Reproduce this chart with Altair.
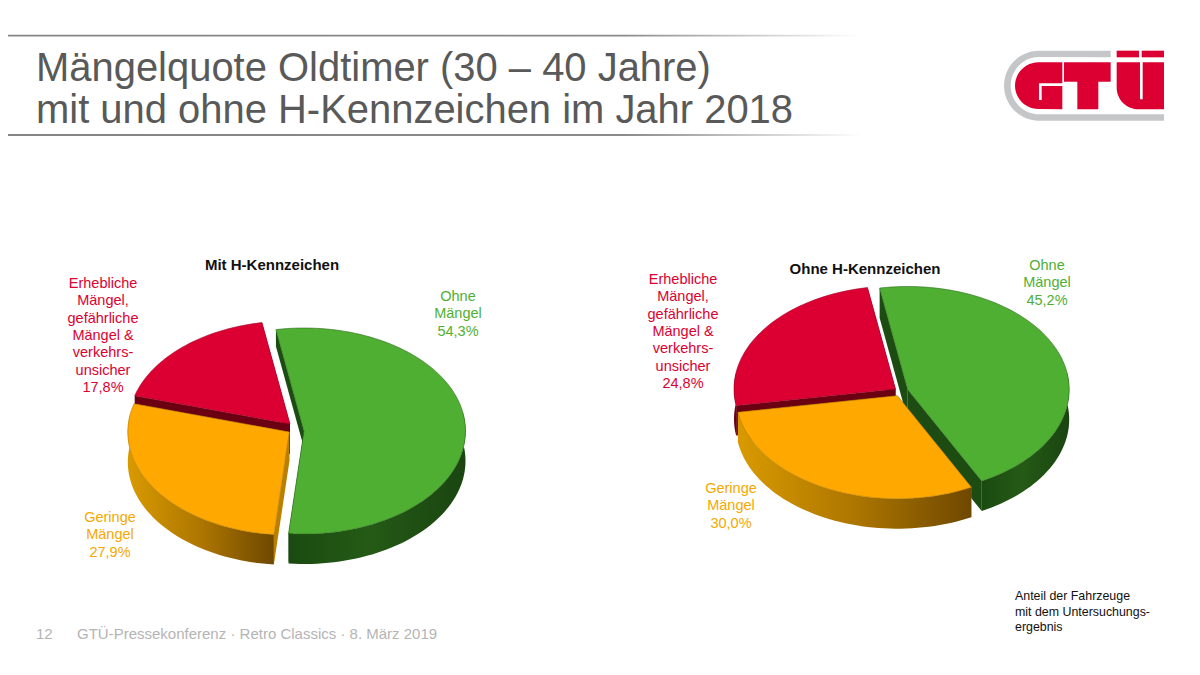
import math
import altair as alt

# ---------- values ----------
CATEGORIES = ["Ohne Mängel", "Geringe Mängel", "Erhebliche Mängel"]
MIT_H = [54.3, 27.9, 17.8]
OHNE_H = [45.2, 30.0, 24.8]

TITLE_LINES = ["Mängelquote Oldtimer (30 – 40 Jahre)", "mit und ohne H-Kennzeichen im Jahr 2018"]
FOOT_NO = "12"
FOOT = "GTÜ-Pressekonferenz · Retro Classics · 8. März 2019"
NOTE = ["Anteil der Fahrzeuge", "mit dem Untersuchungs-", "ergebnis"]
LBL_RED = ["Erhebliche", "Mängel,", "gefährliche", "Mängel &", "verkehrs-", "unsicher"]

# ---------- styling ----------
GREEN, ORANGE, RED = "#4FAF32", "#FFA800", "#DC0032"
FONT = "Liberation Sans"
A, B, DEPTH = 161.5, 103.0, 30.0
START = -100.0


def hgrad(*stops):
    return alt.Gradient(gradient="linear", x1=0, x2=1, y1=0, y2=0,
                        stops=[alt.GradientStop(offset=o, color=c) for o, c in stops])


G_WALL = hgrad((0, "#1a4a10"), (0.45, "#245a16"), (1, "#1a4510"))
O_WALL = hgrad((0, "#d99a00"), (0.5, "#ad7600"), (1, "#6f4800"))
R_WALL = "#6a0012"
LAYERS = []


def poly(pts, fill, stroke=None, sw=0.6):
    rows = [{"x": p[0], "y": p[1], "i": k} for k, p in enumerate(list(pts) + [pts[0]])]
    kw = {"fill": fill, "strokeWidth": sw if stroke else 0}
    kw["stroke"] = stroke if stroke else "transparent"
    LAYERS.append(
        alt.Chart(alt.Data(values=rows)).mark_line(interpolate="linear", **kw).encode(
            x=alt.X("x:Q", scale=alt.Scale(domain=[8, 1192]), axis=None),
            y=alt.Y("y:Q", scale=alt.Scale(domain=[8, 667], reverse=True), axis=None),
            order="i:Q",
        )
    )


def pt(c, deg):
    r = math.radians(deg)
    return (c[0] + A * math.cos(r), c[1] + B * math.sin(r))


def slice_shape(c, t0, t1, top, wall, edge, rim_wall=None, depth=DEPTH, first_wall=None):
    n = max(int((t1 - t0) / 2), 2)
    arc = [pt(c, t0 + (t1 - t0) * k / n) for k in range(n + 1)]
    d0 = first_wall if first_wall else depth
    # radial walls
    poly([arc[0], c, (c[0], c[1] + d0), (arc[0][0], arc[0][1] + d0)], wall)
    poly([arc[-1], c, (c[0], c[1] + depth), (arc[-1][0], arc[-1][1] + depth)], wall)
    # rim wall
    lo, hi = max(t0, -10), min(t1, 190)
    if hi > lo:
        m = max(int((hi - lo) / 2), 2)
        rim = [pt(c, lo + (hi - lo) * k / m) for k in range(m + 1)]
        poly(rim + [(p[0], p[1] + depth) for p in reversed(rim)], rim_wall or wall)
    poly([c] + arc, top, edge)


def angles(vals):
    out, a = [], START
    for v in vals:
        out.append((a, a + v * 3.6))
        a += v * 3.6
    return out


# ---------- decorations: header rules ----------
FADE = hgrad((0, "#858585"), (0.72, "#8a8a8a"), (1, "#ffffff"))
for ry in (35.6, 135.0):
    poly([(8, ry - 0.9), (862, ry - 0.9), (862, ry + 0.9), (8, ry + 0.9)], FADE)

# ---------- pie 1 ----------
(ga, oa, ra) = angles(MIT_H)
slice_shape((290, 424), ra[0], ra[1], RED, R_WALL, "#a00026", R_WALL)
slice_shape((289.3, 432), oa[0], oa[1], ORANGE, "#b98000", "#b57a00", O_WALL)
slice_shape((304, 431), ga[0], ga[1], GREEN, "#1c4c12", "#2f6d1c", G_WALL, first_wall=17)

# ---------- pie 2 ----------
(ga, oa, ra) = angles(OHNE_H)
slice_shape((907.7, 389.5), ga[0], ga[1], GREEN, "#1c4c12", "#2f6d1c", G_WALL)
slice_shape((895.5, 389), ra[0], ra[1], RED, R_WALL, "#a00026", R_WALL)
slice_shape((897.3, 395.7), oa[0], oa[1], ORANGE, "#b98000", "#b57a00", O_WALL)


# ---------- logo ----------
def lg(pts):
    return [(990 + x / 3, 30 + y / 3) for x, y in pts]


def corner(cx, cy, rx, ry, a0, a1, n=14):
    return [(cx + rx * math.cos(math.radians(a0 + (a1 - a0) * k / n)),
             cy + ry * math.sin(math.radians(a0 + (a1 - a0) * k / n))) for k in range(n + 1)]


LOGO_GRAY = "#C4C6C8"
poly(lg([(362, 62)] + corner(147, 167, 105, 105, -90, -270, 28)
        + [(522, 272), (522, 253)] + corner(147, 167, 85, 86, 90, 270, 28) + [(362, 82)]),
     LOGO_GRAY)
# G
poly(lg(corner(145, 167, 70, 70, 90, 270, 24) + [(217, 97), (217, 160), (147, 160), (147, 210), (155, 210),
                                                 (155, 168), (217, 168), (217, 238)]), RED)
# T
poly(lg([(222, 97), (362, 97), (362, 155), (325, 155), (325, 238), (262, 238), (262, 155), (222, 155)]), RED)
# Ü
poly(lg([(380, 62), (447, 62), (447, 82), (380, 82)]), RED)
poly(lg([(455, 62), (522, 62), (522, 82), (455, 82)]), RED)
poly(lg([(380, 97), (450, 97), (450, 208), (458, 208), (458, 97), (522, 97), (522, 238), (445, 238)]
        + corner(445, 173, 65, 65, 90, 180, 14)), RED)


# ---------- text ----------
def txt(lines, x, y, size, color, align="center", weight="normal", lh=None):
    kw = {"lineHeight": lh} if lh else {}
    LAYERS.append(
        alt.Chart(alt.Data(values=[{"a": 1}])).mark_text(
            text=lines, x=x - 8, y=y - 8, fontSize=size, color=color, align=align,
            baseline="alphabetic", font=FONT, fontWeight=weight, **kw
        )
    )


txt(TITLE_LINES, 36, 80.5, 39.95, "#595959", "left", lh=42.3)
txt(FOOT_NO, 36, 639, 15, "#B4B4B4", "left")
txt(FOOT, 77, 639, 15, "#B4B4B4", "left")
txt(NOTE, 1015, 600, 12.4, "#111111", "left", lh=15.5)

txt("Mit H-Kennzeichen", 272, 270, 15, "#111111", weight="bold")
txt("Ohne H-Kennzeichen", 865, 274, 15, "#111111", weight="bold")

txt(["Ohne", "Mängel", "54,3%"], 458, 301, 14.5, GREEN, lh=17.3)
txt(["Geringe", "Mängel", "27,9%"], 110, 522, 14.5, "#F5A800", lh=17.3)
txt(LBL_RED + ["17,8%"], 103, 288, 14.5, RED, lh=17.3)
txt(["Ohne", "Mängel", "45,2%"], 1047, 270, 14.5, GREEN, lh=17.3)
txt(["Geringe", "Mängel", "30,0%"], 731, 493, 14.5, "#F5A800", lh=17.3)
txt(LBL_RED + ["24,8%"], 683, 284, 14.5, RED, lh=17.3)

chart = alt.layer(*LAYERS).properties(
    width=1184, height=659, padding=0, background="#FFFFFF",
    autosize=alt.AutoSizeParams(type="none")
).configure_view(stroke=None)

chart.save("out.html", embed_options={"renderer": "svg", "actions": False})
